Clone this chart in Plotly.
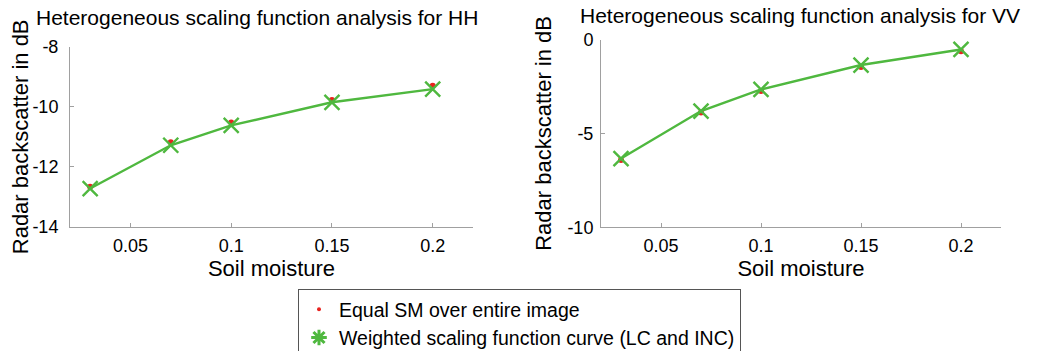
import plotly.graph_objects as go

soil_moisture = [0.03, 0.07, 0.10, 0.15, 0.20]
hh_equal = [-12.66, -11.18, -10.52, -9.77, -9.30]
hh_weighted = [-12.72, -11.28, -10.62, -9.85, -9.41]
vv_equal = [-6.41, -3.89, -2.74, -1.47, -0.62]
vv_weighted = [-6.34, -3.81, -2.66, -1.36, -0.53]

x_ticks = [0.05, 0.1, 0.15, 0.2]
x_ticklabels = ["0.05", "0.1", "0.15", "0.2"]
hh_ticks = [-14, -12, -10, -8]
hh_ticklabels = ["-14", "-12", "-10", "-8"]
vv_ticks = [-10, -5, 0]
vv_ticklabels = ["-10", "-5", "0"]

titles = ["Heterogeneous scaling function analysis for HH",
          "Heterogeneous scaling function analysis for VV"]
legend_names = ["Equal SM over entire image",
                "Weighted scaling function curve (LC and INC)"]

RED = "#e8231f"
GREEN = "#4fb83f"
FONT = "Liberation Sans, Arial, sans-serif"

# page body has an 8px margin, so the figure is offset by 8px
W, H = 1030, 343

fig = go.Figure()

for i, (eq, wt) in enumerate([(hh_equal, hh_weighted), (vv_equal, vv_weighted)]):
    xa = "x" if i == 0 else "x2"
    ya = "y" if i == 0 else "y2"
    fig.add_trace(go.Scatter(x=soil_moisture, y=eq, mode="markers", xaxis=xa, yaxis=ya,
                             marker=dict(color=RED, size=6, symbol="circle"),
                             showlegend=False, hoverinfo="x+y"))
    fig.add_trace(go.Scatter(x=soil_moisture, y=wt, mode="lines+markers", xaxis=xa, yaxis=ya,
                             line=dict(color=GREEN, width=2.4),
                             marker=dict(symbol="x-thin-open", size=15, color=GREEN,
                                         line=dict(color=GREEN, width=2.4)),
                             showlegend=False))

# legend entries
fig.add_trace(go.Scatter(x=[None], y=[None], mode="markers", name=legend_names[0],
                         marker=dict(color=RED, size=4, symbol="circle")))
fig.add_trace(go.Scatter(x=[None], y=[None], mode="markers", name=legend_names[1],
                         marker=dict(symbol="asterisk-open", size=13, color=GREEN,
                                     line=dict(color=GREEN, width=3))))

TICK = 18
TITLE = 22

axis_common = dict(showline=True, linecolor="#a0a0a0", linewidth=1, ticks="inside",
                   ticklen=4, tickcolor="#a0a0a0", showgrid=False, zeroline=False,
                   automargin=False,
                   tickfont=dict(family=FONT, size=TICK, color="black"),
                   title_font=dict(family=FONT, size=TITLE, color="black"), mirror=False)

fig.update_layout(
    width=W, height=H,
    margin=dict(l=0, r=0, t=0, b=0, autoexpand=False),
    paper_bgcolor="white", plot_bgcolor="white",
    font=dict(family=FONT, size=TITLE, color="black"),
    xaxis=dict(domain=[62 / W, 465 / W], range=[0.02, 0.22], tickvals=x_ticks,
               ticktext=x_ticklabels, anchor="y", ticklabelstandoff=2,
               title=dict(text="Soil moisture", standoff=0), **axis_common),
    yaxis=dict(domain=[1 - 219 / H, 1 - 38.7 / H], range=[-14, -8], tickvals=hh_ticks,
               ticktext=hh_ticklabels, anchor="x", ticklabelstandoff=7,
               title=dict(text="Radar backscatter in dB", standoff=3), **axis_common),
    xaxis2=dict(domain=[593 / W, 993 / W], range=[0.02, 0.22], tickvals=x_ticks,
                ticktext=x_ticklabels, anchor="y2", ticklabelstandoff=2,
                title=dict(text="Soil moisture", standoff=0), **axis_common),
    yaxis2=dict(domain=[1 - 219.3 / H, 1 - 31.5 / H], range=[-10, 0], tickvals=vv_ticks,
                ticktext=vv_ticklabels, anchor="x2", ticklabelstandoff=3,
                title=dict(text="Radar backscatter in dB", standoff=9), **axis_common),
    legend=dict(x=290 / W, y=1 - 281 / H, xanchor="left", yanchor="top",
                bordercolor="#555555", borderwidth=1, bgcolor="white",
                font=dict(family=FONT, size=19.5, color="black"),
                itemsizing="trace", tracegroupgap=0),
    showlegend=True,
    annotations=[
        dict(text=titles[0], x=249 / W, y=1 - 9 / H, xref="paper", yref="paper",
             showarrow=False, font=dict(family=FONT, size=21, color="black"),
             xanchor="center", yanchor="middle"),
        dict(text=titles[1], x=792 / W, y=1 - 7 / H, xref="paper", yref="paper",
             showarrow=False, font=dict(family=FONT, size=21, color="black"),
             xanchor="center", yanchor="middle"),
    ],
)

fig.write_html("out.html")
